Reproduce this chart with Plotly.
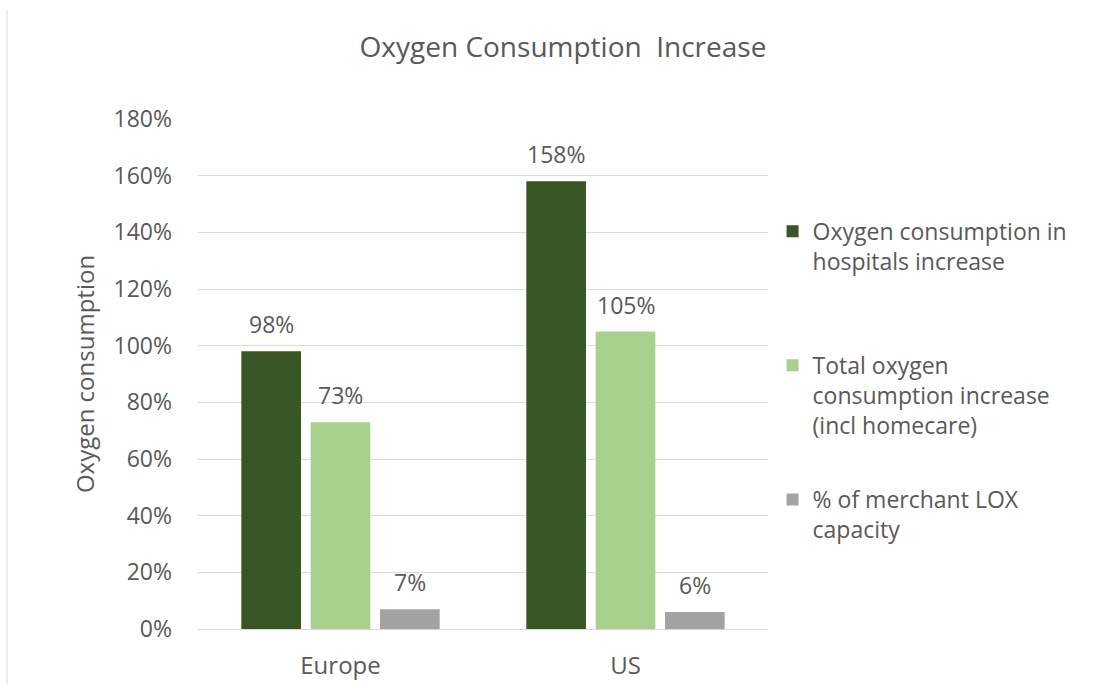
import plotly.graph_objects as go

categories = ["Europe", "US"]
series_names = [
    "Oxygen consumption in<br>hospitals increase",
    "Total oxygen<br>consumption increase<br>(incl homecare)",
    "% of merchant LOX<br>capacity",
]
hospitals = [98, 158]
total = [73, 105]
lox = [7, 6]
colors = ["#375623", "#A9D18E", "#A3A3A3"]
y_ticks = [0, 20, 40, 60, 80, 100, 120, 140, 160, 180]

TXT = "#595959"
FONT = "Open Sans, DejaVu Sans, sans-serif"
BARGAP = 0.27
BARGROUPGAP = 0.14
legend_y = [0.822, 0.559, 0.296]

fig = go.Figure()
all_vals = [hospitals, total, lox]
n = len(all_vals)
slot = (1 - BARGAP) / n
legend_keys = ["legend", "legend2", "legend3"]
for i, (name, vals) in enumerate(zip(series_names, all_vals)):
    fig.add_trace(go.Bar(
        x=categories, y=vals, name=name, legend=legend_keys[i],
        marker=dict(color=colors[i], line=dict(width=0)),
        hoverinfo="x+y",
    ))
    for j, v in enumerate(vals):
        fig.add_annotation(
            x=j + (i - (n - 1) / 2) * slot, y=v, xref="x", yref="y",
            text=f"{v}%", showarrow=False, yanchor="middle", yshift=27,
            font=dict(size=23, color=TXT, family=FONT),
        )

legend_common = dict(
    x=1.008, xanchor="left", yanchor="top", valign="top",
    font=dict(size=23, color=TXT, family=FONT), itemwidth=30,
    bgcolor="rgba(0,0,0,0)",
)
fig.update_layout(
    width=1105, height=684,
    paper_bgcolor="white", plot_bgcolor="white",
    margin=dict(l=198, r=337, t=119, b=55, autoexpand=False),
    barmode="group", bargap=BARGAP, bargroupgap=BARGROUPGAP,
    title=dict(text="Oxygen Consumption  Increase", x=0.5095, xanchor="center",
               y=0.931, yanchor="middle",
               font=dict(size=28, color=TXT, family=FONT)),
    font=dict(family=FONT, color=TXT),
    legend=dict(y=legend_y[0], **legend_common),
    legend2=dict(y=legend_y[1], **legend_common),
    legend3=dict(y=legend_y[2], **legend_common),
    showlegend=True,
    shapes=[dict(type="line", xref="paper", yref="paper",
                 x0=-0.335, x1=-0.335, y0=-0.108, y1=1.2137,
                 line=dict(color="#ECECEC", width=2))],
)
fig.update_yaxes(
    range=[0, 180], tickvals=y_ticks, ticktext=[f"{v}%" for v in y_ticks],
    showgrid=True, gridcolor="#D9D9D9", gridwidth=1,
    zeroline=True, zerolinecolor="#D9D9D9", zerolinewidth=1,
    tickfont=dict(size=23, color=TXT, family=FONT), ticklabelstandoff=25,
    automargin=False,
    title=dict(text="Oxygen consumption", font=dict(size=24, color=TXT, family=FONT), standoff=12),
)
fig.update_xaxes(
    tickfont=dict(size=24, color=TXT, family=FONT), ticklabelstandoff=20,
    showline=False, ticks="", automargin=False,
)

fig.write_html("out.html")
